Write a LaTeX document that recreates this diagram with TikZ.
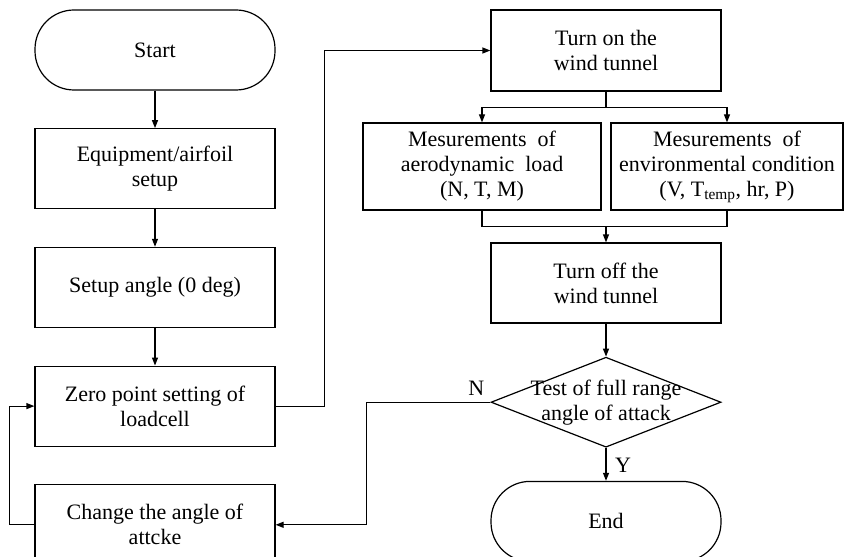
\documentclass[tikz,border=0pt]{standalone}
\usepackage{fontspec}
\setmainfont{Liberation Serif}
\usetikzlibrary{shapes,arrows.meta,positioning,calc}

\begin{document}
\begin{tikzpicture}[x=1pt, y=-1pt, node distance=37.5pt,
  every node/.style={font=\fontsize{22}{25}\selectfont},
  proc/.style={draw, line width=1.2pt, minimum width=240pt, minimum height=80pt, align=center, inner sep=2pt},
  term/.style={proc, rounded corners=39pt},
  decision/.style={draw, diamond, line width=1.2pt, minimum width=230pt, minimum height=90pt, inner sep=0pt},
  flow/.style={line width=1.2pt, -{Triangle[length=8pt,width=6pt]}},
  link/.style={line width=1.2pt}]
\useasboundingbox (0,0) rectangle (866,556);
% left column
\node[term] (start) at (155,50) {Start};
\node[proc, below=of start] (equip) {Equipment/airfoil\\setup};
\node[proc, below=of equip] (angle) {Setup angle (0 deg)};
\node[proc, below=of angle] (zero) {Zero point setting of\\loadcell};
\node[proc, below=of zero] (change) {Change the angle of\\attcke};
% right column
\node[proc, minimum width=230pt, minimum height=81pt] (turnon) at (606,50.5) {Turn on the\\wind tunnel};
\node[proc, minimum width=238pt, minimum height=87pt] (aero) at (482,166.5) {Mesurements\ \ of\\aerodynamic\ \ load\\(N, T, M)};
\node[proc, minimum width=232pt, minimum height=87pt] (env) at (727,166.5) {Mesurements\ \ of\\environmental condition\\(V, T\textsubscript{temp}, hr, P)};
\node[proc, minimum width=230pt] (turnoff) at (606,283) {Turn off the\\wind tunnel};
\node[decision, below=33pt of turnoff, label={[align=center]center:Test of full range\\angle of attack}] (test) {};
\node[term, minimum width=230pt, below=33pt of test] (stop) {End};
\node[inner sep=1pt] (nlab) at ([xshift=-14pt, yshift=14pt]test.west) {N};
\node[inner sep=1pt] (ylab) at ([xshift=17pt, yshift=-17pt]test.south) {Y};

\draw[flow] (start) -- (equip);
\draw[flow] (equip) -- (angle);
\draw[flow] (angle) -- (zero);
\draw[flow] (change.west) -- ++(-25,0) |- (zero.west);
\draw[flow] (zero.east) -- ++(49,0) |- (turnon.west);
\draw[link] (turnon.south) -- ++(0,16) coordinate (fork);
\draw[flow] (fork) -| (aero.north);
\draw[flow] (fork) -| (env.north);
\draw[link] (aero.south) -- ++(0,16) coordinate (join) -| (env.south);
\draw[flow] (join -| turnoff.north) -- (turnoff.north);
\draw[flow] (turnoff) -- (test);
\draw[flow] (test) -- (stop);
\draw[flow] (test.west) -- ++(-124,0) |- (change.east);
\end{tikzpicture}
\end{document}
